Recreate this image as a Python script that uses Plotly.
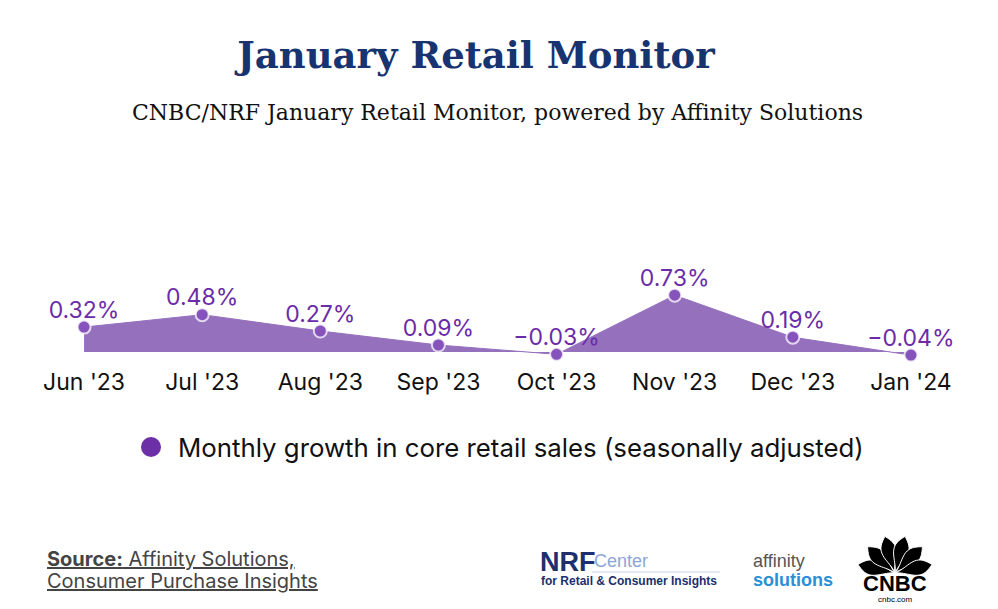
import numpy as np
import plotly.graph_objects as go

months = ["Jun '23", "Jul '23", "Aug '23", "Sep '23", "Oct '23", "Nov '23", "Dec '23", "Jan '24"]
growth = [0.32, 0.48, 0.27, 0.09, -0.03, 0.73, 0.19, -0.04]
labels = [f"{v:.2f}%".replace("-", "\u2212") for v in growth]

series_name = "Monthly growth in core retail sales (seasonally adjusted)"

# page is drawn with an 8px body margin; targets below are in screenshot pixels
OFF = 8
L, R, T, B = 25, 970, 282, 366   # plot area in screenshot pixels


def px_x(x):
    return (x - L) / (R - L)


def px_y(y):
    return (B - y) / (B - T)


fig = go.Figure()
fig.add_trace(go.Scatter(
    x=months, y=growth,
    mode="lines+markers",
    fill="tozeroy",
    fillcolor="#9570bd",
    line=dict(color="#9570bd", width=1),
    marker=dict(size=13, color="#8553bb", line=dict(color="rgba(255,255,255,0.75)", width=2)),
    showlegend=False,
    hoverinfo="skip",
))
# value labels
fig.add_trace(go.Scatter(
    x=months, y=growth,
    mode="markers+text",
    marker=dict(size=4, color="rgba(0,0,0,0)"),
    text=labels,
    textposition="top center",
    textfont=dict(family="Inter", size=23, color="#6a2ca8"),
    cliponaxis=False,
    showlegend=False,
    hoverinfo="skip",
))

font_logo = "Liberation Sans Narrow, Liberation Sans"
annotations = [
    dict(text="CNBC/NRF January Retail Monitor, powered by Affinity Solutions",
         x=px_x(497), y=px_y(112), xref="paper", yref="paper", showarrow=False,
         font=dict(family="DejaVu Serif", size=22, color="#111111"), xanchor="center", yanchor="middle"),
    # legend text
    dict(text=series_name, x=px_x(176), y=px_y(447), xref="paper", yref="paper", showarrow=False,
         font=dict(family="Inter", size=25.8, color="#111111"), xanchor="left", yanchor="middle"),
    dict(text="<u><b>Source:</b> Affinity Solutions,</u>",
         x=px_x(45), y=px_y(559), xref="paper", yref="paper", showarrow=False,
         font=dict(family="Inter", size=20, color="#444444"), xanchor="left", yanchor="middle"),
    dict(text="<u>Consumer Purchase Insights</u>",
         x=px_x(45), y=px_y(581), xref="paper", yref="paper", showarrow=False,
         font=dict(family="Inter", size=20, color="#444444"), xanchor="left", yanchor="middle"),
    # NRF logo
    dict(text="<b>NRF</b>", x=px_x(538), y=px_y(562), xref="paper", yref="paper", showarrow=False,
         font=dict(family=font_logo, size=27, color="#1c2f6e"), xanchor="left", yanchor="middle"),
    dict(text="Center", x=px_x(592), y=px_y(561), xref="paper", yref="paper", showarrow=False,
         font=dict(family=font_logo, size=18, color="#8ea6d6"), xanchor="left", yanchor="middle"),
    dict(text="<b>for Retail & Consumer Insights</b>", x=px_x(539), y=px_y(581), xref="paper", yref="paper", showarrow=False,
         font=dict(family=font_logo, size=12, color="#1c2f6e"), xanchor="left", yanchor="middle"),
    # affinity logo
    dict(text="affinity", x=px_x(751), y=px_y(561), xref="paper", yref="paper", showarrow=False,
         font=dict(family=font_logo, size=18, color="#555555"), xanchor="left", yanchor="middle"),
    dict(text="<b>solutions</b>", x=px_x(751), y=px_y(580), xref="paper", yref="paper", showarrow=False,
         font=dict(family=font_logo, size=18, color="#2b8fd6"), xanchor="left", yanchor="middle"),
    # CNBC logo
    dict(text="<b>CNBC</b>", x=px_x(895), y=px_y(583), xref="paper", yref="paper", showarrow=False,
         font=dict(family="Liberation Sans", size=22, color="#000000"), xanchor="center", yanchor="middle"),
    dict(text="cnbc.com", x=px_x(895), y=px_y(599), xref="paper", yref="paper", showarrow=False,
         font=dict(family="Liberation Sans", size=8, color="#000000"), xanchor="center", yanchor="middle"),
]

shapes = [
    dict(type="line", xref="paper", yref="paper", x0=px_x(592), x1=px_x(720), y0=px_y(572), y1=px_y(572),
         line=dict(color="#c8d2e6", width=1)),
    # legend marker
    dict(type="circle", xref="paper", yref="paper",
         x0=px_x(141), x1=px_x(161), y0=px_y(437), y1=px_y(457),
         fillcolor="#6c2fa6", line=dict(width=0)),
]

# peacock feathers for the CNBC mark
cx, cy = 895, 573
for ang in np.linspace(167, 13, 6):
    a = np.radians(ang)
    length, width = 38, 7.5
    us = np.linspace(0, 1, 20)
    half = width * np.sin(np.pi * us ** 1.5)
    ux, uy = np.cos(a), -np.sin(a)
    nx, ny = -uy, ux
    left = [(cx + u * length * ux + h * nx, cy + u * length * uy + h * ny) for u, h in zip(us, half)]
    right = [(cx + u * length * ux - h * nx, cy + u * length * uy - h * ny) for u, h in zip(us, half)]
    poly = left + right[::-1]
    path = "M " + " L ".join(f"{px_x(x):.5f},{px_y(y):.5f}" for x, y in poly) + " Z"
    shapes.append(dict(type="path", xref="paper", yref="paper", path=path,
                       fillcolor="#000000", line=dict(color="#ffffff", width=1)))

fig.update_layout(
    width=998, height=609,
    paper_bgcolor="white", plot_bgcolor="white",
    margin=dict(l=L - OFF, r=998 - (R - OFF), t=T - OFF, b=609 - (B - OFF), autoexpand=False),
    title=dict(text="<b>January Retail Monitor</b>", x=(476 - OFF) / 998, xanchor="center",
               y=1 - (55 - OFF) / 609, yanchor="middle", yref="container",
               font=dict(family="DejaVu Serif", size=37, color="#173470")),
    xaxis=dict(range=[-0.5, 7.5], showgrid=False, zeroline=False, showline=False, ticks="",
               automargin=False, tickfont=dict(family="Inter", size=23, color="#111111")),
    yaxis=dict(range=[-0.18, 0.9], visible=False, showgrid=False, zeroline=False),
    showlegend=False,
    annotations=annotations,
    shapes=shapes,
    hovermode=False,
)

fig.write_html("out.html")
